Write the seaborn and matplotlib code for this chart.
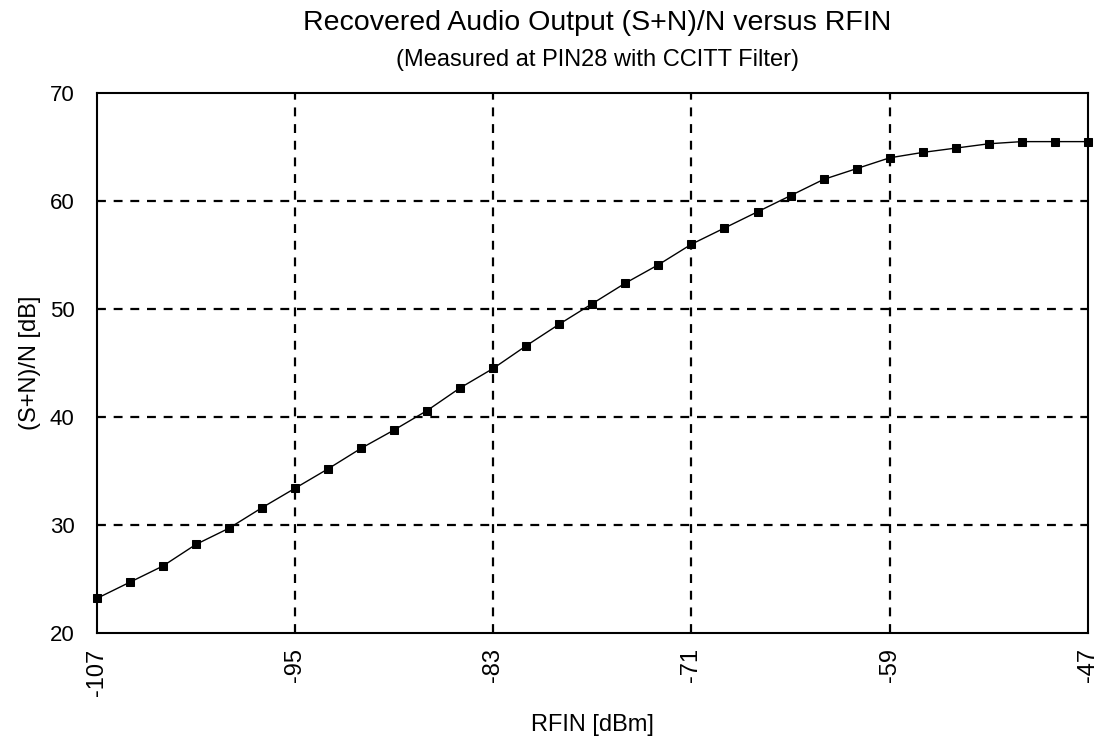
import numpy as np
import pandas as pd
import matplotlib
matplotlib.use("Agg")
import matplotlib.pyplot as plt
import seaborn as sns

rfin = [-107, -105, -103, -101, -99, -97, -95, -93, -91, -89, -87, -85, -83, -81,
        -79, -77, -75, -73, -71, -69, -67, -65, -63, -61, -59, -57, -55, -53,
        -51, -49, -47]
snr = [23.2, 24.7, 26.2, 28.2, 29.7, 31.6, 33.4, 35.2, 37.1, 38.8, 40.6, 42.7,
       44.5, 46.6, 48.6, 50.5, 52.4, 54.1, 56.0, 57.5, 59.0, 60.5, 62.0, 63.0,
       64.0, 64.5, 64.9, 65.3, 65.5, 65.5, 65.5]
xticks = [-107, -95, -83, -71, -59, -47]
yticks = [20, 30, 40, 50, 60, 70]

sns.set_theme(style="white")
plt.rcParams['font.family'] = ['Liberation Sans', 'DejaVu Sans']
plt.rcParams['axes.unicode_minus'] = False
plt.rcParams['text.color'] = 'black'
plt.rcParams['axes.labelcolor'] = 'black'
plt.rcParams['xtick.color'] = 'black'
plt.rcParams['ytick.color'] = 'black'

df = pd.DataFrame({"RFIN": rfin, "SN": snr})

fig = plt.figure(figsize=(11, 7.4), dpi=100)
ax = fig.add_axes([0.088, 0.1446, 0.901, 0.7297])

for xv in xticks[1:-1]:
    ax.axvline(xv, color="black", lw=1.6, ls=(0, (4, 3.5)), zorder=1)
for yv in yticks[1:-1]:
    ax.axhline(yv, color="black", lw=1.6, ls=(0, (4, 3.5)), zorder=1)

sns.lineplot(data=df, x="RFIN", y="SN", ax=ax, color="black", lw=1.0,
             marker="s", markersize=6, markeredgecolor="black", zorder=3,
             clip_on=False)

ax.set_xlim(-107, -47)
ax.set_ylim(20, 70)
ax.set_xticks(xticks)
ax.set_yticks(yticks)
ax.set_xticklabels([str(v) for v in xticks], rotation=90, fontsize=17)
ax.set_yticklabels([str(v) for v in yticks], fontsize=16)
ax.tick_params(axis="x", direction="in", length=8, width=1.2, color="black", pad=11)
ax.tick_params(axis="y", direction="in", length=0, pad=16)
for s in ax.spines.values():
    s.set_color("black")
    s.set_linewidth(1.5)

ax.set_xlabel("RFIN [dBm]", fontsize=17, labelpad=13)
ax.set_ylabel("(S+N)/N [dB]", fontsize=17, labelpad=6)

fig.text(0.543, 0.969, "Recovered Audio Output (S+N)/N versus RFIN", ha="center",
         va="center", fontsize=20.5)
fig.text(0.543, 0.919, "(Measured at PIN28 with CCITT Filter)", ha="center",
         va="center", fontsize=17)

fig.savefig("out.png", dpi=100, facecolor="white")
